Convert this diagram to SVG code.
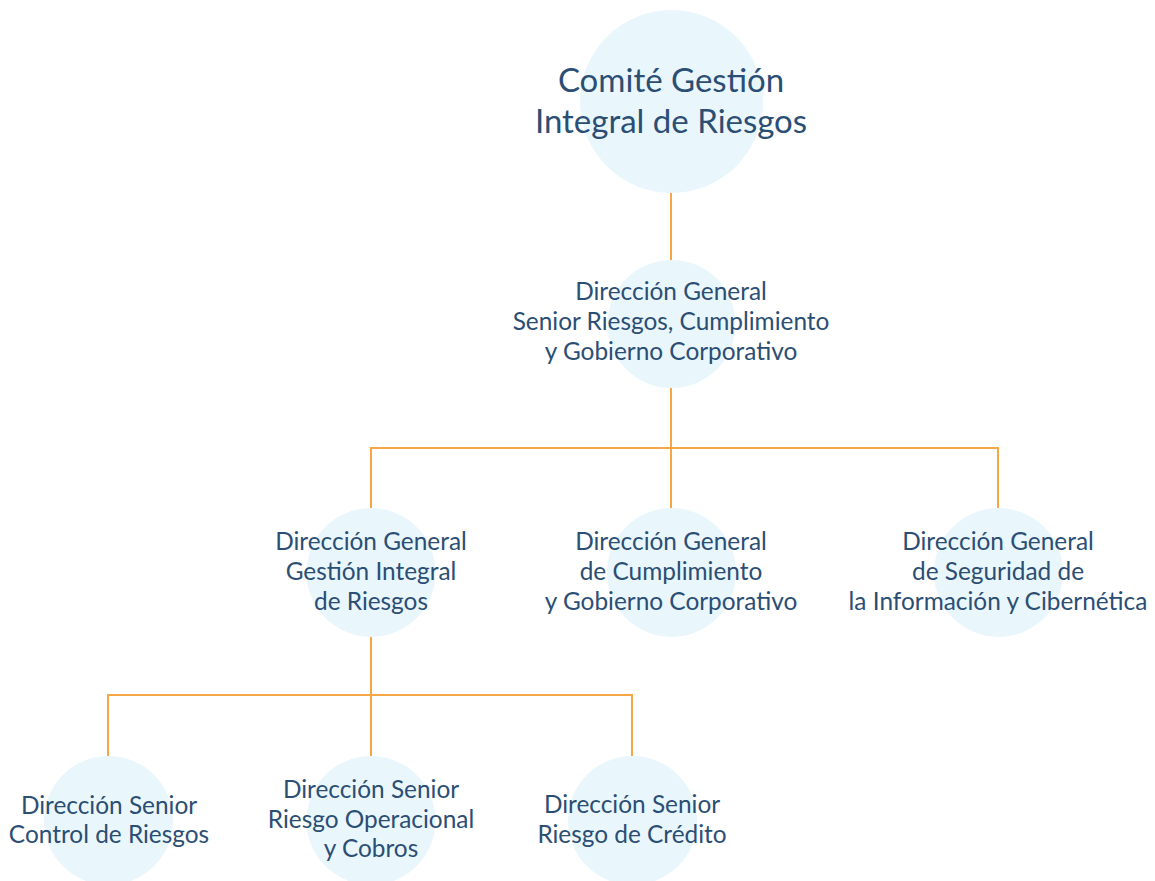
<svg xmlns="http://www.w3.org/2000/svg" width="1155" height="881" viewBox="0 0 1155 881">
<style>
.c{fill:#E9F6FC}
.t{font-family:Lato,"Open Sans",sans-serif;font-size:24.4px;fill:#2B4E74;text-anchor:middle}
.tb{font-size:33px}
.l{stroke:#F5A646;stroke-width:2;fill:none}
</style>
<rect width="1155" height="881" fill="#fff"/>
<g id="connectors">
<path class="l" d="M671 193V260"/>
<path class="l" d="M671 388V508M371 508V448H998V508"/>
<path class="l" d="M371 637V756M108 756V695H632V756"/>
</g>
<g id="n1"><circle class="c" cx="671.5" cy="101.5" r="91.5"/>
<text class="t tb" x="671" y="92">Comité Gestión</text><text class="t tb" x="671" y="133">Integral de Riesgos</text></g>
<g id="n2"><circle class="c" cx="671.5" cy="324" r="64"/>
<text class="t" x="671" y="300">Dirección General</text><text class="t" x="671" y="330">Senior Riesgos, Cumplimiento</text><text class="t" x="671" y="360">y Gobierno Corporativo</text></g>
<g id="n3"><circle class="c" cx="371" cy="572.5" r="64.5"/>
<text class="t" x="371" y="550">Dirección General</text><text class="t" x="371" y="580">Gestión Integral</text><text class="t" x="371" y="610">de Riesgos</text></g>
<g id="n4"><circle class="c" cx="671.5" cy="572.5" r="64.5"/>
<text class="t" x="671" y="550">Dirección General</text><text class="t" x="671" y="580">de Cumplimiento</text><text class="t" x="671" y="610">y Gobierno Corporativo</text></g>
<g id="n5"><circle class="c" cx="998.5" cy="572.5" r="64.5"/>
<text class="t" x="998" y="550">Dirección General</text><text class="t" x="998" y="580">de Seguridad de</text><text class="t" x="998" y="610">la Información y Cibernética</text></g>
<g id="n6"><circle class="c" cx="108.5" cy="820.5" r="64.5"/>
<text class="t" x="109" y="814">Dirección Senior</text><text class="t" x="109" y="843">Control de Riesgos</text></g>
<g id="n7"><circle class="c" cx="371" cy="820.5" r="64.5"/>
<text class="t" x="371" y="798">Dirección Senior</text><text class="t" x="371" y="828">Riesgo Operacional</text><text class="t" x="371" y="857">y Cobros</text></g>
<g id="n8"><circle class="c" cx="632.5" cy="820.5" r="64.5"/>
<text class="t" x="632" y="813">Dirección Senior</text><text class="t" x="632" y="843">Riesgo de Crédito</text></g>
</svg>
